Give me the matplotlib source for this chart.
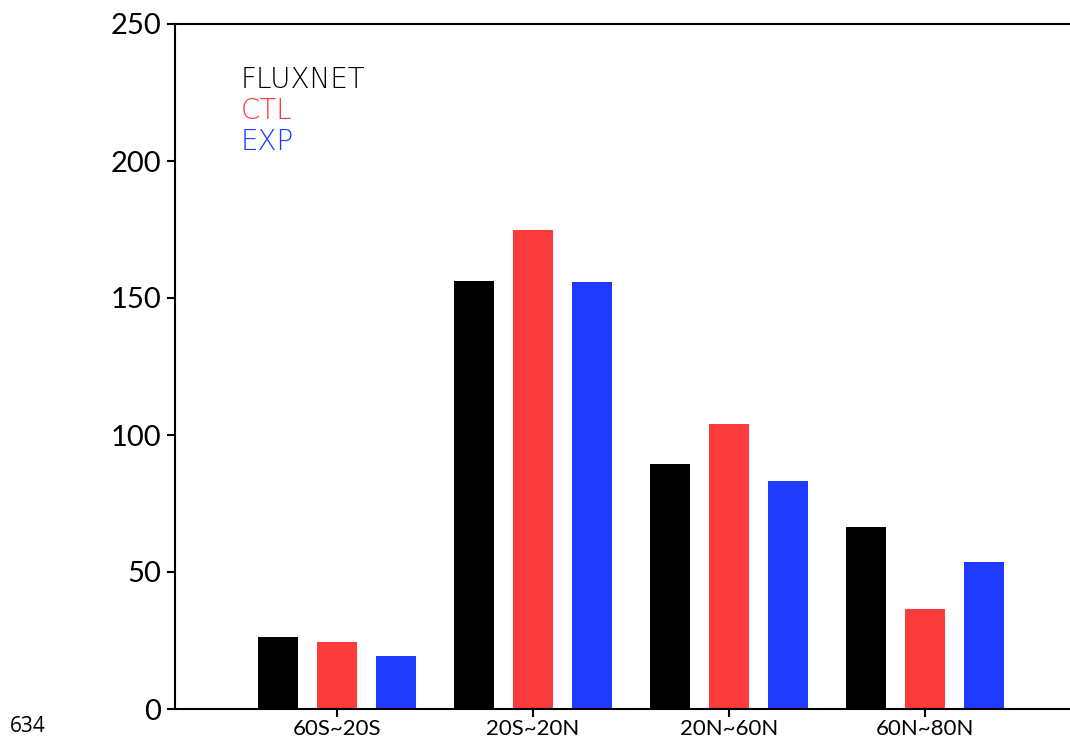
import matplotlib
matplotlib.use("Agg")
import matplotlib.pyplot as plt
import numpy as np

regions = ["60S~20S", "20S~20N", "20N~60N", "60N~80N"]
series_names = ["FLUXNET", "CTL", "EXP"]
fluxnet = [26.3, 156.2, 89.4, 66.4]
ctl = [24.5, 174.8, 104.0, 36.5]
exp = [19.3, 155.8, 83.2, 53.6]
colors = ["#000000", "#FA3C3C", "#1F3BFF"]
yticks = [0, 50, 100, 150, 200, 250]

fig = plt.figure(figsize=(10.7, 7.4), dpi=100)
ax = fig.add_axes([175/1070, 1-709/740, (1087-175)/1070, (709-24)/740])

x = np.arange(len(regions))
width = 0.204
offset = 0.30
for i, (vals, c) in enumerate(zip([fluxnet, ctl, exp], colors)):
    ax.bar(x + (i - 1) * offset, vals, width=width, color=c, edgecolor='none')

ax.set_xlim(-0.827, 3.827)
ax.set_ylim(0, 250)
ax.set_yticks(yticks)
ax.set_yticklabels([str(t) for t in yticks], fontsize=21, family=['Lato', 'DejaVu Sans'])
ax.set_xticks(x)
ax.set_xticklabels(regions, fontsize=16, family=['Lato', 'DejaVu Sans'])
ax.tick_params(axis='both', direction='out', length=6, width=1.5, color='black')
ax.tick_params(axis='y', pad=4)
ax.tick_params(axis='x', pad=1)
for side in ['left', 'top', 'bottom']:
    ax.spines[side].set_linewidth(1.5)
ax.spines['right'].set_visible(False)

for i, (name, c) in enumerate(zip(series_names, colors)):
    ax.text(0.072, 0.918 - i * 0.045, name, transform=ax.transAxes, color=c,
            fontsize=20, va='center', ha='left', family=['DejaVu Sans'], fontweight='light')

fig.text(10/1070, 1-727/740, "634", fontsize=15, family=['Open Sans'], va='center', ha='left')

fig.savefig("out.png", dpi=100)
